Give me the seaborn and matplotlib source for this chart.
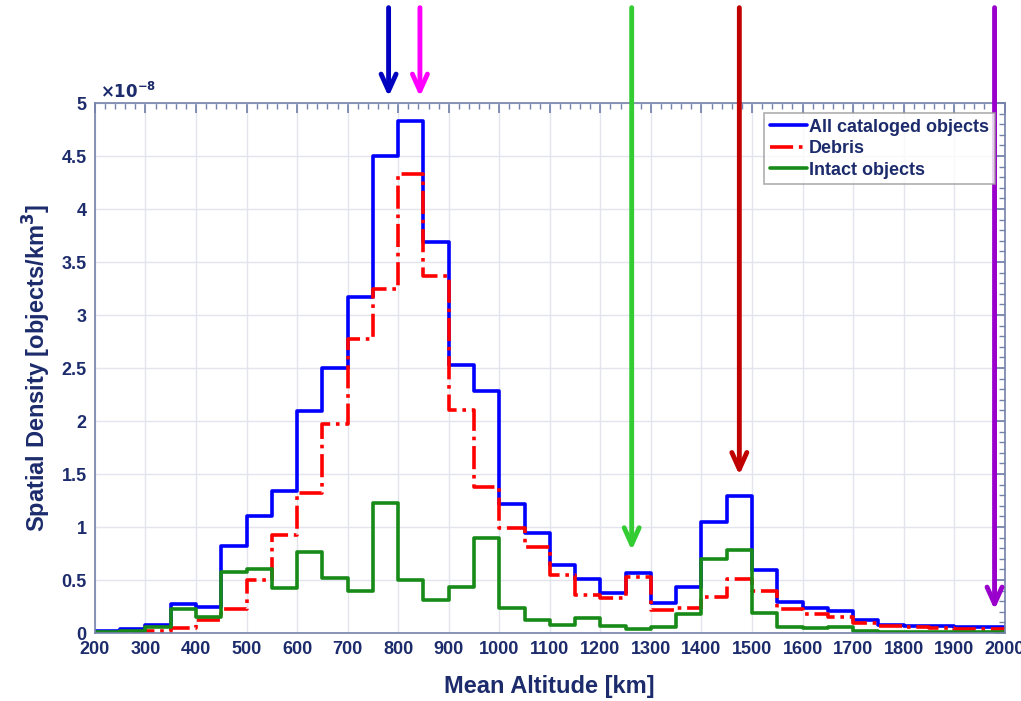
import numpy as np
import pandas as pd
import matplotlib
matplotlib.use("Agg")
import matplotlib.pyplot as plt
import seaborn as sns

# bin edges of the altitude histogram [km]
bin_edges = np.arange(200, 2001, 50)
bin_starts = bin_edges[:-1]

# spatial density per bin, in units of 1e-8 objects/km^3
all_objects = [0.02, 0.04, 0.08, 0.27, 0.25, 0.82, 1.10, 1.34, 2.09, 2.50,
               3.17, 4.50, 4.83, 3.69, 2.53, 2.28, 1.22, 0.94, 0.64, 0.51,
               0.38, 0.57, 0.28, 0.43, 1.05, 1.29, 0.59, 0.29, 0.24, 0.21,
               0.12, 0.08, 0.07, 0.07, 0.06, 0.06]
debris = [0.00, 0.01, 0.02, 0.05, 0.12, 0.23, 0.50, 0.92, 1.32, 1.97,
          2.77, 3.25, 4.33, 3.37, 2.10, 1.38, 0.99, 0.81, 0.55, 0.36,
          0.33, 0.53, 0.22, 0.24, 0.34, 0.51, 0.40, 0.23, 0.18, 0.15,
          0.09, 0.07, 0.06, 0.05, 0.04, 0.04]
intact = [0.01, 0.02, 0.06, 0.23, 0.15, 0.58, 0.60, 0.42, 0.76, 0.52,
          0.40, 1.23, 0.50, 0.31, 0.43, 0.90, 0.24, 0.12, 0.08, 0.14,
          0.07, 0.04, 0.06, 0.18, 0.70, 0.78, 0.19, 0.06, 0.05, 0.06,
          0.02, 0.01, 0.01, 0.01, 0.01, 0.01]

series_names = ["All cataloged objects", "Debris", "Intact objects"]
series_colors = ["#0000ff", "#ff0000", "#178a17"]
series_styles = ["-", "-.", "-"]

# arrows above the plot: altitude, tip height (1e-8 units), colour
arrow_alts = [781, 843, 1262, 1475, 1980]
arrow_tips = [5.06, 5.06, 0.78, 1.49, 0.22]
arrow_colors = ["#0000c0", "#ff00ff", "#33cc33", "#c00000", "#9900cc"]

navy = "#1c2b6b"
frame = "#7482aa"

sns.set_theme(style="white")
plt.rcParams["font.family"] = ["Liberation Sans Narrow", "Liberation Sans", "DejaVu Sans"]
plt.rcParams["font.weight"] = "bold"

df = pd.DataFrame({
    "alt": np.tile(bin_starts + 25, 3),
    "density": np.concatenate([all_objects, debris, intact]),
    "series": np.repeat(series_names, len(bin_starts)),
})

fig = plt.figure(figsize=(10.21, 7.01), dpi=100)
ax = fig.add_axes([0.093, 0.097, 0.891, 0.756])

for name, col, ls in zip(series_names, series_colors, series_styles):
    sub = df[df["series"] == name]
    sns.histplot(data=sub, x="alt", weights="density", binwidth=50,
                 binrange=(200, 2000), element="step", fill=False, color=col,
                 linestyle=ls, linewidth=2.6, label=name, ax=ax)

ax.set_xlim(200, 2000)
ax.set_ylim(0, 5)
ax.set_xticks(np.arange(200, 2001, 100))
ax.set_yticks(np.arange(0, 5.01, 0.5))
ax.set_xticks(np.arange(200, 2001, 20), minor=True)
ax.set_yticks(np.arange(0, 5.01, 0.1), minor=True)
ax.yaxis.set_major_formatter(matplotlib.ticker.FuncFormatter(lambda v, _: f"{v:g}"))
ax.grid(True, which="major", color="#e2e5ee", linewidth=1)
ax.set_axisbelow(True)

ax.tick_params(which="both", direction="in", top=True, right=True, color=frame)
ax.tick_params(which="major", length=7, labelsize=13, labelcolor=navy, pad=6)
ax.tick_params(which="minor", length=4)
for lab in ax.get_xticklabels() + ax.get_yticklabels():
    lab.set_fontweight("bold")
for sp in ax.spines.values():
    sp.set_color(frame)
    sp.set_linewidth(1.2)

ax.set_xlabel("Mean Altitude [km]", fontsize=17, fontweight="bold", color=navy, labelpad=12)
ax.set_ylabel("Spatial Density [objects/km$^3$]", fontsize=17, fontweight="bold", color=navy, labelpad=6)
ax.text(0.005, 1.004, r"$\times10^{-8}$", transform=ax.transAxes, fontsize=12,
        color=navy, ha="left", va="bottom")

leg = ax.legend(loc="upper right", bbox_to_anchor=(0.989, 0.981), fontsize=13,
                frameon=True, fancybox=False, handlelength=2.1, handletextpad=0.1,
                borderpad=0.3, labelspacing=0.25, borderaxespad=0)
leg.get_frame().set_edgecolor("#999999")
leg.get_frame().set_linewidth(1.2)
for t in leg.get_texts():
    t.set_color(navy)
    t.set_fontweight("bold")

for x, tip, col in zip(arrow_alts, arrow_tips, arrow_colors):
    ax.annotate("", xy=(x, tip), xytext=(x, 5.9), xycoords="data",
                annotation_clip=False,
                arrowprops=dict(arrowstyle="->,head_length=1.0,head_width=0.45",
                                color=col, lw=3.5, shrinkA=0, shrinkB=0))

fig.savefig("out.png", dpi=100)
